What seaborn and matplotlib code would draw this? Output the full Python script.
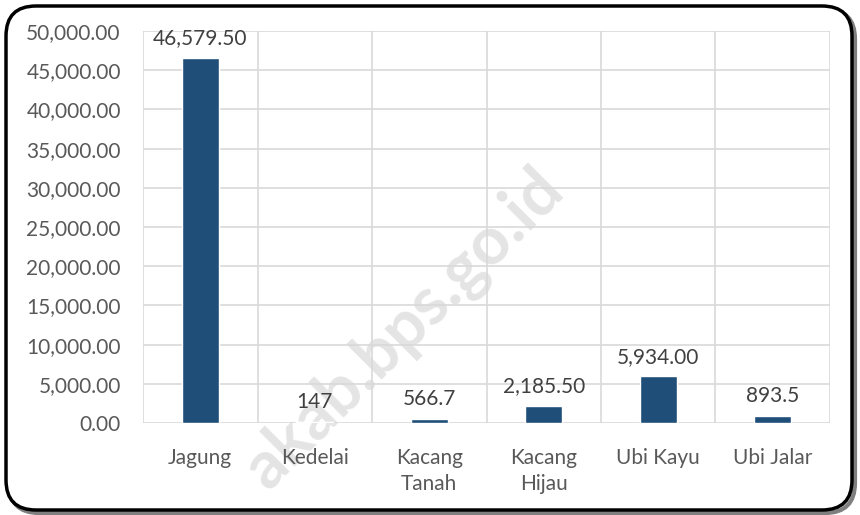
import seaborn as sns
import matplotlib.pyplot as plt
import numpy as np
import pandas as pd
from matplotlib.patches import FancyBboxPatch
from matplotlib.ticker import FuncFormatter

# data
categories = ['Jagung', 'Kedelai', 'Kacang\nTanah', 'Kacang\nHijau', 'Ubi Kayu', 'Ubi Jalar']
values = [46579.50, 147, 566.7, 2185.50, 5934.00, 893.5]
value_labels = ['46,579.50', '147', '566.7', '2,185.50', '5,934.00', '893.5']

df = pd.DataFrame({'komoditas': categories, 'nilai': values})

sns.set_theme(style='white')
plt.rcParams['font.family'] = ['Lato', 'DejaVu Sans']

fig = plt.figure(figsize=(8.6, 5.15), dpi=100)
ax = fig.add_axes([0.1663, 0.1786, 0.7988, 0.7612])

sns.barplot(data=df, x='komoditas', y='nilai', color='#1F4E79', width=0.32,
            saturation=1, ax=ax)

ax.set_ylim(0, 50000)
ax.set_xlim(-0.5, len(categories) - 0.5)
ax.set_yticks(np.arange(0, 50001, 5000))
ax.yaxis.set_major_formatter(FuncFormatter(lambda v, p: f'{v:,.2f}'))
ax.set_xticks(np.arange(-0.5, len(categories), 1), minor=True)
ax.grid(True, axis='y', color='#D9D9D9', lw=1.2)
ax.grid(True, axis='x', which='minor', color='#D9D9D9', lw=1.2)
ax.grid(False, axis='x', which='major')
ax.set_axisbelow(True)
for s in ax.spines.values():
    s.set_visible(False)
ax.tick_params(axis='both', which='both', length=0, labelsize=15, labelcolor='#595959')
ax.tick_params(axis='y', pad=16)
ax.tick_params(axis='x', pad=18)
for t in ax.get_xticklabels():
    t.set_linespacing(1.35)
ax.set_xlabel('')
ax.set_ylabel('')

ax.bar_label(ax.containers[0], labels=value_labels, padding=7, fontsize=15, color='#404040')

# watermark (behind the axes)
fig.text(0.47, 0.36, 'akab.bps.go.id', rotation=45, fontsize=48, fontweight='bold',
         color='#E0E0E0', alpha=0.85, ha='center', va='center', zorder=-0.5)

# rounded frame with shadow
shadow = FancyBboxPatch((0.09, 0.02), 8.46, 5.04, boxstyle='round,pad=0,rounding_size=0.3',
                        transform=fig.dpi_scale_trans, fc='none', ec='#7F7F7F', lw=3, zorder=-2)
frame = FancyBboxPatch((0.06, 0.05), 8.46, 5.04, boxstyle='round,pad=0,rounding_size=0.3',
                       transform=fig.dpi_scale_trans, fc='white', ec='black', lw=2.5, zorder=-1)
fig.patches.extend([shadow, frame])
ax.patch.set_alpha(0)

fig.savefig('out.png', dpi=100)
